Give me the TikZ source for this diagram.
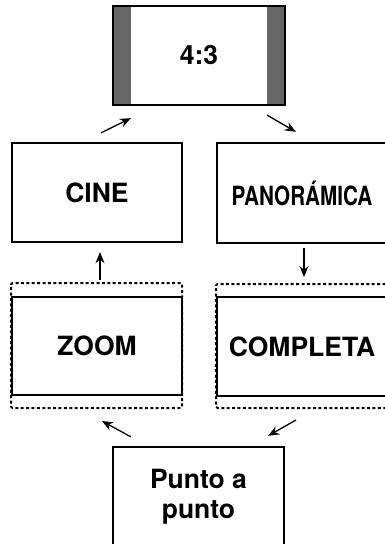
\documentclass[tikz,border=0pt]{standalone}
\usepackage{fontspec}
\setmainfont{TeX Gyre Heros}
\usetikzlibrary{arrows.meta,calc}
\definecolor{bargray}{HTML}{666666}
\begin{document}
\begin{tikzpicture}[x=1pt,y=-1pt,
  box/.style={draw, line width=2.3pt, minimum width=170pt, minimum height=99pt, inner sep=0pt,
    font=\fontsize{26.5}{30}\selectfont\bfseries, align=center},
  dbox/.style={draw, line width=2pt, dash pattern=on 3pt off 2.4pt, rounded corners=1.5pt, inner sep=0pt},
  arr/.style={line width=1.3pt, -{Stealth[length=11pt,width=9pt]}}]
\useasboundingbox (0,0) rectangle (385,544);
\fill[white] (0,0) rectangle (385,544);
% letterbox bars
\fill[bargray] (113,6) rectangle (131,105);
\fill[bargray] (267,6) rectangle (285,105);
\node[box, minimum width=172pt] (top) at (199,55.5) {4:3};
\node[box] (cine) at (97,192.5) {CINE};
\node[box, minimum height=100pt] (pan) at (302,193) {\scalebox{0.78}[1]{PANORÁMICA}};
\node[dbox, minimum width=171pt, minimum height=125pt] (zoomd) at (96.5,345.5) {};
\node[box, minimum height=98pt] (zoom) at (97,346) {ZOOM};
\node[dbox, minimum width=171pt, minimum height=124pt] (compd) at (301.5,346) {};
\node[box] (comp) at (302,346.5) {COMPLETA};
\node[box, minimum width=171pt] (punto) at (198.5,496.5) {Punto a\\punto};
% arrow end points
\coordinate (a1s) at ($(cine.north)+(4,-9)$);
\coordinate (a1e) at ($(top.south west)+(19,12)$);
\coordinate (a2s) at ($(top.south east)+(-19,9)$);
\coordinate (a2e) at ($(pan.north west)+(80,-10)$);
\coordinate (a3s) at ($(zoomd.north)+(3.5,-2)$);
\coordinate (a3e) at ($(cine.south)+(3,9)$);
\coordinate (a4s) at ($(pan.south)+(2,4)$);
\coordinate (a4e) at ($(compd.north)+(2.5,-6)$);
\coordinate (a5s) at ($(punto.north west)+(19,-9)$);
\coordinate (a5e) at ($(zoomd.south)+(5.5,12)$);
\coordinate (a6s) at ($(compd.south west)+(81,11)$);
\coordinate (a6e) at ($(punto.north east)+(-17,-10)$);
\draw[arr] (a1s) -- (a1e);
\draw[arr] (a2s) -- (a2e);
\draw[arr] (a3s) -- (a3e);
\draw[arr] (a4s) -- (a4e);
\draw[arr] (a5s) -- (a5e);
\draw[arr] (a6s) -- (a6e);
\end{tikzpicture}
\end{document}
